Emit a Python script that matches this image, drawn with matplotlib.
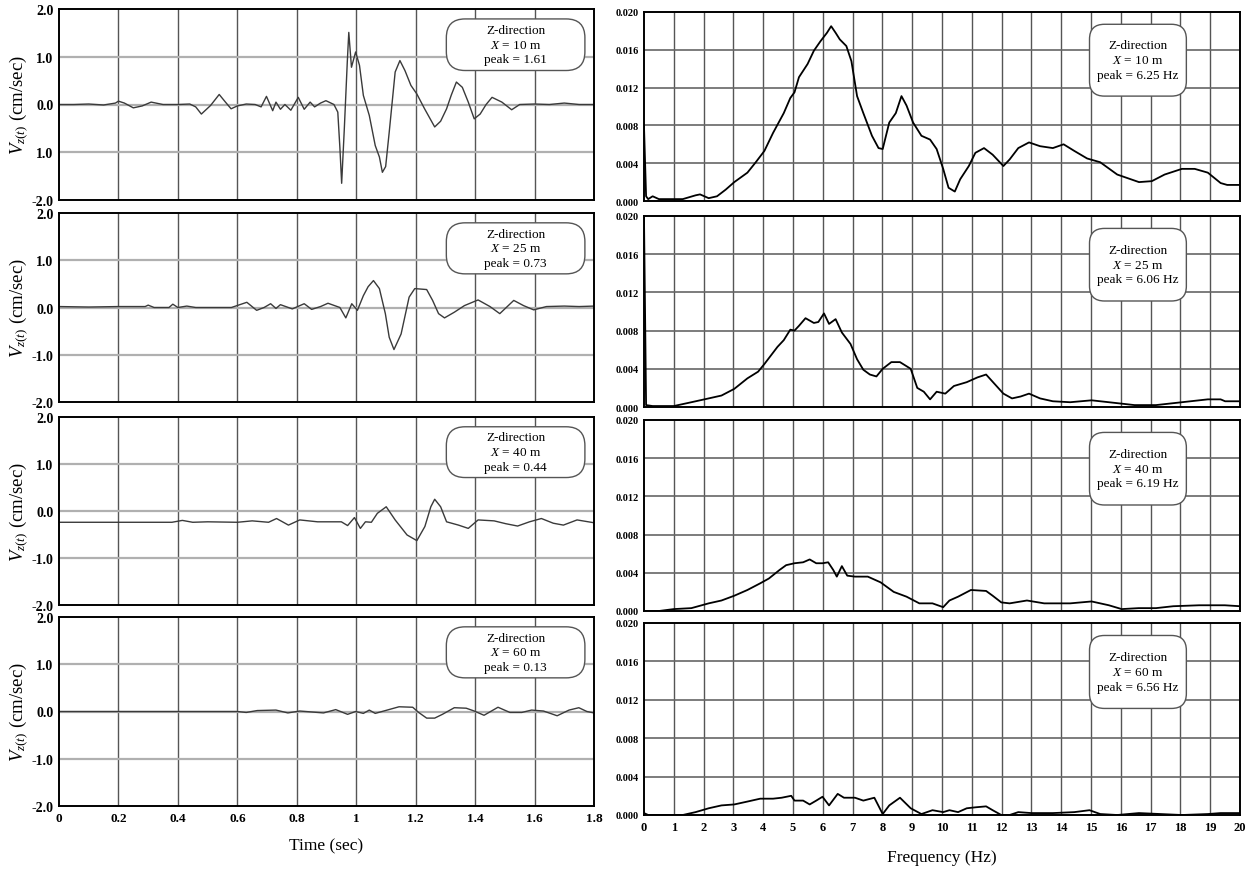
import numpy as np
import matplotlib
matplotlib.use('Agg')
import matplotlib.pyplot as plt
from matplotlib.ticker import FormatStrFormatter
from matplotlib.patches import FancyBboxPatch

plt.rcParams['font.family'] = ['Liberation Serif', 'DejaVu Serif']
plt.rcParams['mathtext.fontset'] = 'custom'
plt.rcParams['mathtext.it'] = 'Liberation Serif:italic'
plt.rcParams['mathtext.rm'] = 'Liberation Serif'

# time histories, (t [sec], V [cm/sec])
vel_10 = [(0, 0), (0.05, 0), (0.10, 0.01), (0.15, -0.01), (0.19, 0.03), (0.20, 0.07), (0.22, 0.03),
          (0.25, -0.07), (0.28, -0.03), (0.31, 0.05), (0.35, 0.0), (0.40, 0.0), (0.44, 0.01),
          (0.46, -0.05), (0.479, -0.2), (0.51, -0.02), (0.539, 0.21), (0.56, 0.05), (0.579, -0.09),
          (0.60, -0.03), (0.63, 0.01), (0.66, 0.0), (0.68, -0.05), (0.698, 0.17), (0.719, -0.13),
          (0.73, 0.05), (0.745, -0.1), (0.76, 0.0), (0.78, -0.12), (0.805, 0.15), (0.825, -0.1),
          (0.845, 0.05), (0.86, -0.05), (0.88, 0.03), (0.898, 0.08), (0.925, 0.0), (0.938, -0.16),
          (0.945, -0.9), (0.951, -1.65), (0.96, -0.5), (0.97, 0.9), (0.975, 1.51), (0.984, 0.78),
          (0.998, 1.1), (1.011, 0.82), (1.024, 0.19), (1.044, -0.23), (1.064, -0.86), (1.078, -1.1),
          (1.088, -1.42), (1.099, -1.3), (1.111, -0.58), (1.131, 0.68), (1.147, 0.92), (1.164, 0.71),
          (1.184, 0.4), (1.204, 0.22), (1.23, -0.09), (1.264, -0.47), (1.284, -0.35), (1.304, -0.09),
          (1.32, 0.2), (1.337, 0.47), (1.357, 0.36), (1.377, 0.05), (1.397, -0.3), (1.417, -0.2),
          (1.437, 0.0), (1.457, 0.15), (1.49, 0.05), (1.523, -0.11), (1.55, 0.0), (1.6, 0.01),
          (1.65, 0.0), (1.7, 0.03), (1.75, 0.0), (1.8, 0.0)]
vel_25 = [(0, 0.02), (0.1, 0.01), (0.2, 0.02), (0.29, 0.02), (0.30, 0.05), (0.32, 0.0), (0.37, 0.0),
          (0.383, 0.07), (0.40, 0.0), (0.43, 0.03), (0.46, 0.0), (0.50, 0.0), (0.58, 0.0),
          (0.632, 0.11), (0.665, -0.06), (0.69, 0.0), (0.712, 0.08), (0.73, -0.02), (0.745, 0.06),
          (0.785, -0.03), (0.825, 0.08), (0.85, -0.04), (0.88, 0.02), (0.905, 0.09), (0.945, 0.0),
          (0.965, -0.22), (0.985, 0.08), (1.004, -0.06), (1.024, 0.25), (1.04, 0.44), (1.058, 0.57),
          (1.078, 0.4), (1.098, -0.13), (1.111, -0.63), (1.127, -0.89), (1.151, -0.56), (1.178, 0.22),
          (1.197, 0.4), (1.237, 0.38), (1.257, 0.15), (1.277, -0.13), (1.297, -0.22), (1.33, -0.1),
          (1.364, 0.04), (1.41, 0.16), (1.45, 0.02), (1.483, -0.13), (1.53, 0.15), (1.563, 0.04),
          (1.597, -0.05), (1.64, 0.02), (1.7, 0.03), (1.75, 0.02), (1.8, 0.03)]
vel_40 = [(0, -0.24), (0.38, -0.24), (0.415, -0.2), (0.45, -0.24), (0.5, -0.23), (0.6, -0.24),
          (0.65, -0.21), (0.705, -0.24), (0.732, -0.16), (0.772, -0.3), (0.81, -0.19), (0.87, -0.23),
          (0.95, -0.23), (0.971, -0.31), (0.994, -0.14), (1.014, -0.37), (1.031, -0.23),
          (1.051, -0.24), (1.071, -0.05), (1.101, 0.09), (1.131, -0.19), (1.171, -0.51),
          (1.204, -0.63), (1.231, -0.33), (1.251, 0.09), (1.264, 0.25), (1.284, 0.09), (1.304, -0.23),
          (1.344, -0.3), (1.377, -0.37), (1.41, -0.19), (1.464, -0.21), (1.503, -0.27), (1.543, -0.32),
          (1.583, -0.23), (1.623, -0.16), (1.663, -0.26), (1.697, -0.3), (1.743, -0.19), (1.8, -0.25)]
vel_60 = [(0, 0.0), (0.6, 0.0), (0.63, -0.02), (0.667, 0.02), (0.73, 0.03), (0.77, -0.03), (0.81, 0.01),
          (0.89, -0.03), (0.931, 0.04), (0.971, -0.06), (0.998, 0.0), (1.024, -0.04), (1.044, 0.03),
          (1.064, -0.04), (1.104, 0.03), (1.144, 0.1), (1.19, 0.09), (1.21, -0.02), (1.237, -0.14),
          (1.264, -0.14), (1.29, -0.06), (1.33, 0.08), (1.37, 0.07), (1.397, 0.01), (1.43, -0.08),
          (1.477, 0.09), (1.517, -0.02), (1.557, -0.02), (1.59, 0.03), (1.63, 0.01), (1.676, -0.09),
          (1.716, 0.03), (1.749, 0.08), (1.776, 0.0), (1.8, -0.03)]

# Fourier amplitude spectra, (f [Hz], amplitude)
fas_10 = [(0, 0.0079), (0.07, 0.0005), (0.14, 0.0002), (0.29, 0.0005), (0.5, 0.0002), (0.87, 0.0002),
          (1.3, 0.0002), (1.73, 0.0006), (1.88, 0.0007), (2.17, 0.0003), (2.45, 0.0005), (2.74, 0.0012),
          (3.03, 0.002), (3.47, 0.003), (3.75, 0.0041), (4.04, 0.0053), (4.33, 0.0072), (4.69, 0.0093),
          (4.91, 0.0109), (5.05, 0.0115), (5.2, 0.0131), (5.49, 0.0145), (5.7, 0.0159), (5.92, 0.0169),
          (6.14, 0.0178), (6.28, 0.0185), (6.43, 0.0178), (6.57, 0.0171), (6.79, 0.0164), (6.96, 0.0148),
          (7.15, 0.0111), (7.36, 0.0093), (7.65, 0.0069), (7.87, 0.0056), (8.01, 0.0055), (8.23, 0.0083),
          (8.45, 0.0093), (8.64, 0.0111), (8.81, 0.0101), (9.03, 0.0083), (9.31, 0.0069), (9.6, 0.0065),
          (9.82, 0.0055), (10.04, 0.0034), (10.22, 0.0014), (10.43, 0.001), (10.61, 0.0023),
          (10.9, 0.0037), (11.12, 0.0051), (11.41, 0.0056), (11.7, 0.0049), (12.06, 0.0037),
          (12.27, 0.0044), (12.56, 0.0056), (12.92, 0.0062), (13.29, 0.0058), (13.72, 0.0056),
          (14.08, 0.006), (14.44, 0.0053), (14.87, 0.0045), (15.31, 0.0041), (15.88, 0.0028),
          (16.61, 0.002), (17.04, 0.0021), (17.47, 0.0028), (18.05, 0.0034), (18.48, 0.0034),
          (18.92, 0.003), (19.35, 0.0019), (19.57, 0.0017), (20, 0.0017)]
fas_25 = [(0, 0.0198), (0.07, 0.0002), (0.29, 0.0001), (1.0, 0.0001), (1.59, 0.0005), (2.17, 0.0009),
          (2.6, 0.0012), (3.03, 0.0019), (3.47, 0.003), (3.83, 0.0037), (4.04, 0.0045), (4.26, 0.0054),
          (4.48, 0.0063), (4.69, 0.007), (4.91, 0.0081), (5.05, 0.008), (5.2, 0.0085), (5.42, 0.0093),
          (5.7, 0.0088), (5.85, 0.0089), (6.04, 0.0098), (6.21, 0.0087), (6.43, 0.0092), (6.64, 0.0078),
          (6.93, 0.0066), (7.15, 0.005), (7.36, 0.0039), (7.58, 0.0034), (7.8, 0.0032), (8.01, 0.004),
          (8.3, 0.0047), (8.59, 0.0047), (8.95, 0.004), (9.17, 0.002), (9.39, 0.0016), (9.6, 0.0008),
          (9.82, 0.0016), (10.11, 0.0014), (10.4, 0.0022), (10.83, 0.0026), (11.19, 0.0031),
          (11.48, 0.0034), (11.77, 0.0024), (12.06, 0.0014), (12.35, 0.0009), (12.64, 0.0011),
          (12.92, 0.0014), (13.29, 0.0009), (13.72, 0.0006), (14.3, 0.0005), (15.02, 0.0007),
          (15.6, 0.0005), (16.46, 0.0002), (17.18, 0.0002), (18.05, 0.0005), (18.92, 0.0008),
          (19.35, 0.0008), (19.5, 0.0006), (20, 0.0006)]
fas_40 = [(0, 0.0), (0.5, 0.0), (1.0, 0.0002), (1.59, 0.0003), (2.17, 0.0008), (2.6, 0.0011),
          (3.03, 0.0016), (3.47, 0.0022), (3.9, 0.0029), (4.19, 0.0034), (4.55, 0.0043), (4.77, 0.0048),
          (5.05, 0.005), (5.34, 0.0051), (5.56, 0.0054), (5.78, 0.005), (5.99, 0.005), (6.18, 0.0051),
          (6.35, 0.0043), (6.47, 0.0036), (6.64, 0.0047), (6.82, 0.0037), (7.08, 0.0036), (7.51, 0.0036),
          (7.94, 0.003), (8.38, 0.002), (8.81, 0.0015), (9.24, 0.0008), (9.68, 0.0008), (10.04, 0.0004),
          (10.25, 0.0011), (10.54, 0.0015), (10.97, 0.0022), (11.48, 0.0021), (11.7, 0.0016),
          (11.99, 0.0009), (12.27, 0.0008), (12.85, 0.0011), (13.43, 0.0008), (14.3, 0.0008),
          (15.02, 0.001), (15.6, 0.0006), (16.03, 0.0002), (16.6, 0.0003), (17.18, 0.0003),
          (17.76, 0.0005), (18.63, 0.0006), (19.49, 0.0006), (20, 0.0005)]
fas_60 = [(0, 0.0002), (0.14, 0.0), (0.72, 0.0), (1.3, 0.0), (1.73, 0.0003), (2.17, 0.0007), (2.6, 0.001),
          (3.03, 0.0011), (3.47, 0.0014), (3.9, 0.0017), (4.33, 0.0017), (4.62, 0.0018), (4.94, 0.002),
          (5.05, 0.0015), (5.34, 0.0015), (5.56, 0.0011), (5.78, 0.0015), (5.99, 0.0019), (6.21, 0.001),
          (6.5, 0.0022), (6.71, 0.0018), (7.08, 0.0018), (7.36, 0.0015), (7.73, 0.0018), (8.01, 0.0001),
          (8.23, 0.001), (8.59, 0.0018), (8.95, 0.0007), (9.31, 0.0001), (9.68, 0.0005), (10.04, 0.0003),
          (10.25, 0.0005), (10.54, 0.0003), (10.83, 0.0007), (11.12, 0.0008), (11.48, 0.0009),
          (11.7, 0.0005), (11.99, 0.0), (12.27, 0.0), (12.56, 0.0003), (13.0, 0.0002), (13.72, 0.0002),
          (14.44, 0.0003), (14.95, 0.0005), (15.31, 0.0001), (15.88, 0.0), (16.61, 0.0002),
          (17.33, 0.0001), (18.05, 0.0), (18.92, 0.0001), (19.35, 0.0002), (20, 0.0002)]

distances = [10, 25, 40, 60]
peak_vel = ['1.61', '0.73', '0.44', '0.13']
peak_freq = ['6.25', '6.06', '6.19', '6.56']
vel_data = [vel_10, vel_25, vel_40, vel_60]
fas_data = [fas_10, fas_25, fas_40, fas_60]

time_ticks = [0, 0.2, 0.4, 0.6, 0.8, 1.0, 1.2, 1.4, 1.6, 1.8]
time_labels = ['0', '0.2', '0.4', '0.6', '0.8', '1', '1.2', '1.4', '1.6', '1.8']
vel_ticks = [-2, -1, 0, 1, 2]
vel_labels = [['-2.0', '1.0', '0.0', '1.0', '2.0']] + [['-2.0', '-1.0', '0.0', '1.0', '2.0']] * 3
freq_ticks = list(range(0, 21))
amp_ticks = [0, 0.004, 0.008, 0.012, 0.016, 0.020]

W, H = 1254, 870
fig = plt.figure(figsize=(W / 100, H / 100), dpi=100)

left_rows = [(10, 201), (214, 403), (418, 606), (618, 807)]
right_rows = [(13, 202), (217, 408), (421, 612), (624, 816)]
lx0, lx1 = 59, 594
rx0, rx1 = 644, 1240


def label_box(ax, x0, y0, x1, y1, w_px, h_px, r, text):
    # rounded box drawn in axes fraction, corners kept circular
    p = FancyBboxPatch((x0, y0), x1 - x0, y1 - y0, transform=ax.transAxes,
                       boxstyle='round,pad=0,rounding_size=%f' % r,
                       mutation_aspect=w_px / h_px, fc='white', ec='#555555', lw=1.0, zorder=3)
    ax.add_patch(p)
    ax.text((x0 + x1) / 2, (y0 + y1) / 2, text, transform=ax.transAxes, ha='center', va='center',
            fontsize=9.5, linespacing=1.3, zorder=4)


for i in range(4):
    # time history
    top, bot = left_rows[i]
    ax = fig.add_axes([lx0 / W, 1 - bot / H, (lx1 - lx0) / W, (bot - top) / H])
    t, v = np.array(vel_data[i]).T
    ax.plot(t, v, color='#3a3a3a', lw=1.0)
    ax.set_xlim(0, 1.8)
    ax.set_ylim(-2, 2)
    ax.set_xticks(time_ticks)
    ax.set_yticks(vel_ticks)
    ax.set_yticklabels(vel_labels[i], fontsize=10, fontweight='bold')
    if i == 3:
        ax.set_xticklabels(time_labels, fontsize=9.5, fontweight='bold')
        ax.set_xlabel('Time (sec)', fontsize=12.5, labelpad=10)
    else:
        ax.set_xticklabels([])
    for x in time_ticks[1:-1]:
        ax.axvline(x, color='#555555', lw=1.0, zorder=0)
    for y in [-1, 0, 1]:
        ax.axhline(y, color='#b0b0b0', lw=1.6, zorder=0)
    ax.tick_params(length=0, pad=4)
    for s in ax.spines.values():
        s.set_linewidth(1.4)
    ax.set_ylabel(r'$V_{z(t)}$ (cm/sec)', fontsize=13.5)
    ax.yaxis.set_label_coords(-0.054, 0.5)
    label_box(ax, 0.724, 0.678, 0.983, 0.948, lx1 - lx0, bot - top, 0.035,
              'Z-direction\n$X$ = %d m\npeak = %s' % (distances[i], peak_vel[i]))

    # spectrum
    top, bot = right_rows[i]
    ax2 = fig.add_axes([rx0 / W, 1 - bot / H, (rx1 - rx0) / W, (bot - top) / H])
    f, a = np.array(fas_data[i]).T
    ax2.plot(f, a, color='black', lw=1.3)
    ax2.set_xlim(0, 20)
    ax2.set_ylim(0, 0.020)
    ax2.set_xticks(freq_ticks)
    ax2.set_yticks(amp_ticks)
    ax2.yaxis.set_major_formatter(FormatStrFormatter('%.3f'))
    for lab in ax2.get_yticklabels():
        lab.set_fontsize(7.5)
        lab.set_fontweight('bold')
    if i == 3:
        ax2.set_xticklabels([str(k) for k in freq_ticks], fontsize=9, fontweight='bold')
        ax2.set_xlabel('Frequency (Hz)', fontsize=12.5, labelpad=12)
    else:
        ax2.set_xticklabels([])
    for x in freq_ticks[1:-1]:
        ax2.axvline(x, color='#555555', lw=1.0, zorder=0)
    for y in amp_ticks[1:-1]:
        ax2.axhline(y, color='#666666', lw=1.2, zorder=0)
    ax2.tick_params(length=0, pad=4)
    for s in ax2.spines.values():
        s.set_linewidth(1.4)
    label_box(ax2, 0.7475, 0.555, 0.91, 0.935, rx1 - rx0, bot - top, 0.025,
              'Z-direction\n$X$ = %d m\npeak = %s Hz' % (distances[i], peak_freq[i]))

fig.savefig('out.png', dpi=100)
